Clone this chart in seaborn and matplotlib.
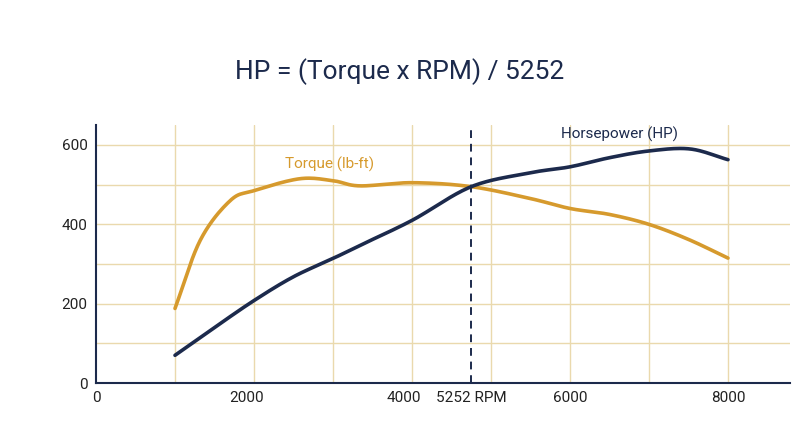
import matplotlib
matplotlib.use("Agg")
import matplotlib.pyplot as plt
import seaborn as sns
import numpy as np
import pandas as pd

rpm_hp = [1000, 1500, 2000, 2500, 3000, 3340, 4000, 4750, 5500, 6000, 6500, 7000, 7520, 8000]
hp = [70, 140, 208, 268, 314, 347, 410, 495, 530, 545, 568, 585, 590, 563]
rpm_tq = [1000, 1320, 1700, 2000, 2580, 3000, 3340, 4000, 4750, 5500, 6000, 6500, 7000, 7500, 8000]
torque = [188, 360, 460, 485, 515, 510, 497, 505, 495, 465, 440, 425, 400, 362, 315]
x_ticks = [0, 2000, 4000, 5252, 6000, 8000]
x_tick_labels = ["0", "2000", "4000", "5252 RPM", "6000", "8000"]
y_ticks = [0, 200, 400, 600]

navy = "#1c2a4c"
gold = "#d69a2d"


def smooth(xs, ys, n=20):
    # Catmull-Rom pass through the read points, only to draw a smooth curve
    p = np.column_stack([xs, ys]).astype(float)
    p = np.vstack([2 * p[0] - p[1], p, 2 * p[-1] - p[-2]])
    out = []
    t = np.linspace(0, 1, n, endpoint=False)[:, None]
    for i in range(1, len(p) - 2):
        p0, p1, p2, p3 = p[i - 1], p[i], p[i + 1], p[i + 2]
        out.append(0.5 * ((2 * p1) + (-p0 + p2) * t + (2 * p0 - 5 * p1 + 4 * p2 - p3) * t ** 2
                          + (-p0 + 3 * p1 - 3 * p2 + p3) * t ** 3))
    out.append(p[-2][None, :])
    out = np.vstack(out)
    return pd.DataFrame({"rpm": out[:, 0], "val": out[:, 1]})


sns.set_theme(style="white")
plt.rcParams["font.family"] = ["Roboto", "DejaVu Sans"]

fig = plt.figure(figsize=(8, 4.47), dpi=100)
ax = fig.add_axes([0.12, 0.143, 0.868, 0.577])

# grid every 1000 rpm / 100 units
for v in range(1000, 9000, 1000):
    ax.axvline(v, color="#ead9ad", lw=1, zorder=0)
for v in range(100, 700, 100):
    ax.axhline(v, color="#ead9ad", lw=1, zorder=0)

sns.lineplot(data=smooth(rpm_tq, torque), x="rpm", y="val", color=gold, lw=2.6, ax=ax,
             sort=False, estimator=None)
sns.lineplot(data=smooth(rpm_hp, hp), x="rpm", y="val", color=navy, lw=2.6, ax=ax,
             sort=False, estimator=None)
ax.axvline(4750, color=navy, lw=1.4, ls=(0, (4, 3)))

ax.text(2960, 552, "Torque (lb-ft)", color=gold, fontsize=11, ha="center", va="center")
ax.text(6630, 628, "Horsepower (HP)", color=navy, fontsize=11, ha="center", va="center")

ax.set_xlim(0, 8790)
ax.set_ylim(0, 650)
tick_pos = [0, 1900, 3900, 4750, 6000, 8000]
ax.set_xticks(tick_pos)
ax.set_xticklabels(x_tick_labels)
ax.set_yticks(y_ticks)
ax.set_xlabel("")
ax.set_ylabel("")
ax.tick_params(axis="both", labelsize=11, colors="#222222", length=0, pad=6)
for s in ["top", "right"]:
    ax.spines[s].set_visible(False)
for s in ["left", "bottom"]:
    ax.spines[s].set_color(navy)
    ax.spines[s].set_linewidth(1.5)

fig.suptitle("HP = (Torque x RPM) / 5252", y=0.87, fontsize=19, color=navy)
fig.savefig("out.png", dpi=100, facecolor="white")
